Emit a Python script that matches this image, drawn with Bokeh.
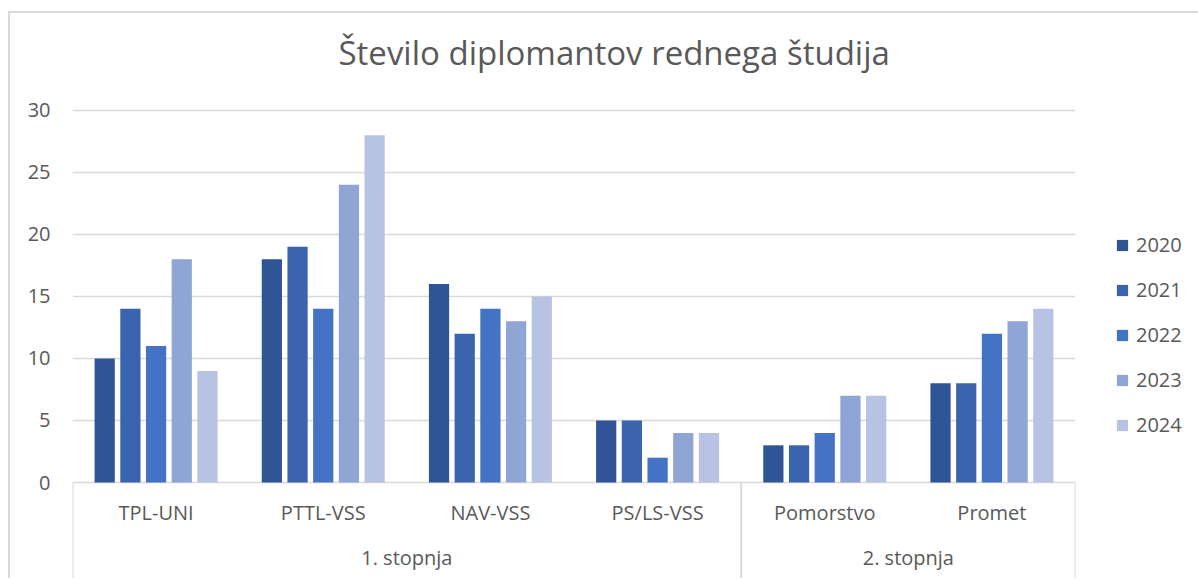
from bokeh.plotting import figure
from bokeh.models import FactorRange, Range1d, FixedTicker, ColumnDataSource, Legend, LegendItem
from bokeh.transform import dodge
from bokeh.core.properties import value
from bokeh.embed import file_html
from bokeh.resources import INLINE

chart_title = "Število diplomantov rednega študija"
groups = ["1. stopnja", "1. stopnja", "1. stopnja", "1. stopnja", "2. stopnja", "2. stopnja"]
programs = ["TPL-UNI", "PTTL-VSS", "NAV-VSS", "PS/LS-VSS", "Pomorstvo", "Promet"]
years = ["2020", "2021", "2022", "2023", "2024"]
v2020 = [10, 18, 16, 5, 3, 8]
v2021 = [14, 19, 12, 5, 3, 8]
v2022 = [11, 14, 14, 2, 4, 12]
v2023 = [18, 24, 13, 4, 7, 13]
v2024 = [9, 28, 15, 4, 7, 14]
y_ticks = [0, 5, 10, 15, 20, 25, 30]
colors = ["#2F5597", "#3A64AE", "#4472C4", "#8FA5D6", "#B8C3E4"]

FONT = "Open Sans"
GREY = "#595959"
LINE = "#D9D9D9"

factors = list(zip(groups, programs))
series = [v2020, v2021, v2022, v2023, v2024]

src = ColumnDataSource(dict(x=factors, program=programs,
                            **{"y" + yr: vals for yr, vals in zip(years, series)}))

y_bottom = -7.74
p = figure(
    x_range=FactorRange(factors=factors, factor_padding=0, group_padding=0,
                        subgroup_padding=0, range_padding=0),
    y_range=Range1d(y_bottom, 30.8),
    frame_width=1003, frame_height=478,
    output_backend="svg", toolbar_location=None,
    min_border_left=72, min_border_right=115, min_border_top=100, min_border_bottom=0,
    styles={
        "background-image": "linear-gradient(#D9D9D9, #D9D9D9), linear-gradient(#D9D9D9, #D9D9D9)",
        "background-size": "100% 2px, 2px 100%",
        "background-position": "8px 11px, 8px 11px",
        "background-repeat": "no-repeat",
    },
)
p.border_fill_color = None
p.title.text = chart_title
p.title.text_font = FONT
p.title.text_font_size = "33px"
p.title.text_font_style = "normal"
p.title.text_color = GREY
p.title.align = "left"
p.title.offset = 266
p.title.standoff = 52

p.outline_line_color = None
p.xaxis.visible = False
p.xgrid.visible = False
p.ygrid.grid_line_color = LINE
p.ygrid.grid_line_width = 1.3
p.yaxis.ticker = FixedTicker(ticks=y_ticks)
p.ygrid.ticker = FixedTicker(ticks=y_ticks)
p.yaxis.axis_line_color = None
p.yaxis.major_tick_line_color = None
p.yaxis.minor_tick_line_color = None
p.yaxis.major_tick_out = 0
p.yaxis.major_tick_in = 0
p.yaxis.minor_tick_out = 0
p.yaxis.major_label_text_font = FONT
p.yaxis.major_label_text_font_size = "20px"
p.yaxis.major_label_text_color = GREY
p.yaxis.major_label_standoff = 22

pitch = 0.1537
bar_w = 0.121
renderers = []
for i, (yr, col) in enumerate(zip(years, colors)):
    r = p.vbar(x=dodge("x", (i - 2) * pitch, range=p.x_range), top="y" + yr,
               width=bar_w, source=src, fill_color=col, line_color=None)
    renderers.append(r)

# separators below the axis: left edge of each group, right edge of last group
first_idx = [i for i in range(len(groups)) if i == 0 or groups[i] != groups[i - 1]]
sep_src = ColumnDataSource(dict(x=[factors[i] for i in first_idx]))
end_src = ColumnDataSource(dict(x=[factors[-1]]))
p.segment(x0=dodge("x", -0.5, range=p.x_range), x1=dodge("x", -0.5, range=p.x_range),
          y0=0, y1=y_bottom, source=sep_src, line_color=LINE, line_width=2)
p.segment(x0=dodge("x", 0.5, range=p.x_range), x1=dodge("x", 0.5, range=p.x_range),
          y0=0, y1=y_bottom, source=end_src, line_color=LINE, line_width=2)

# category labels and group labels
p.text(x="x", y=-2.4, text="program", source=src, text_align="center",
       text_baseline="middle", text_font=value(FONT), text_font_size="20px",
       text_color=GREY)
grp_names = list(dict.fromkeys(groups))
grp_src = ColumnDataSource(dict(x=grp_names, text=grp_names))
p.text(x="x", y=-6.05, text="text", source=grp_src, text_align="center",
       text_baseline="middle", text_font=value(FONT), text_font_size="20px",
       text_color=GREY)

legend = Legend(items=[LegendItem(label=yr, renderers=[r]) for yr, r in zip(years, renderers)],
                location=(40, 140), glyph_width=14, glyph_height=14,
                label_standoff=7, spacing=18, padding=4, margin=0,
                border_line_color=None, background_fill_alpha=0,
                label_text_font=FONT, label_text_font_size="20px",
                label_text_color=GREY)
p.add_layout(legend, "right")

open("out.html", "w").write(file_html(p, INLINE))
